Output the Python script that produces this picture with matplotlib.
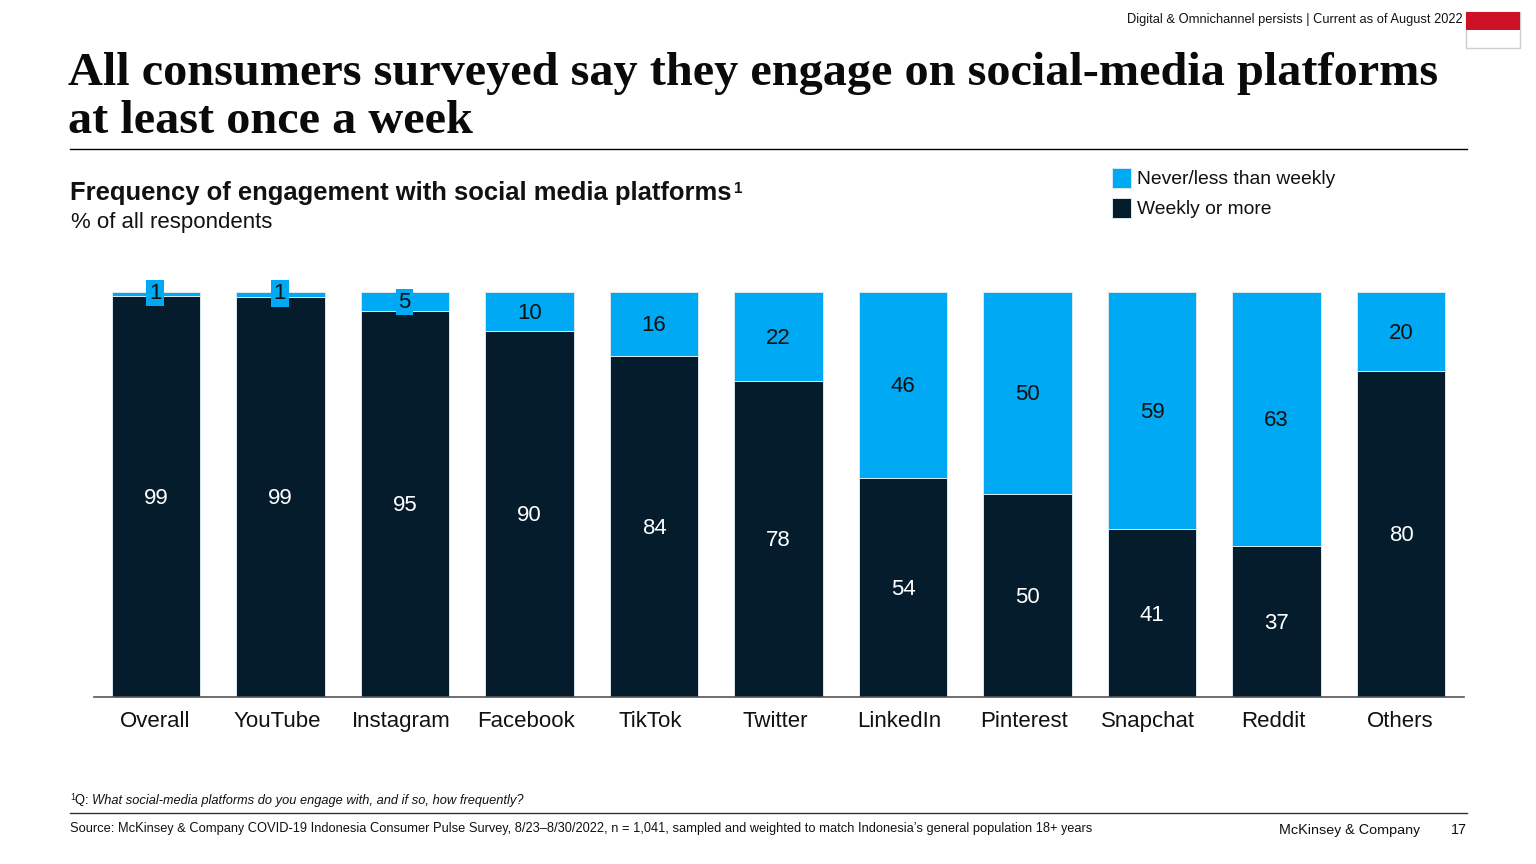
import matplotlib
matplotlib.use("Agg")
import matplotlib.pyplot as plt
import numpy as np
from matplotlib.lines import Line2D
from matplotlib.patches import Rectangle

plt.rcParams['font.family'] = ['Liberation Sans', 'DejaVu Sans']
plt.rcParams['text.hinting'] = 'no_autohint'

# data (unrounded shares, labels show them rounded)
platforms = ["Overall", "YouTube", "Instagram", "Facebook", "TikTok", "Twitter",
             "LinkedIn", "Pinterest", "Snapchat", "Reddit", "Others"]
weekly_or_more = [99.0, 98.8, 95.4, 90.4, 84.2, 78.0, 54.1, 50.1, 41.4, 37.4, 80.49]
less_than_weekly = [1.0, 1.2, 4.6, 9.6, 15.8, 22.0, 45.9, 49.9, 58.6, 62.6, 19.51]

W, H = 1536, 864
NAVY = "#051C2C"
CYAN = "#00A9F4"
INK = "#111111"

fig = plt.figure(figsize=(W / 100, H / 100), dpi=100, facecolor="white")


def fx(px):
    return px / W


def fy(py):
    return 1 - py / H


def put(px, py, s, size, **kw):
    kw.setdefault("color", INK)
    kw.setdefault("va", "baseline")
    return fig.text(fx(px), fy(py), s, fontsize=size, **kw)


def rule(x0, x1, py, lw=1.0, color="black"):
    fig.add_artist(Line2D([fx(x0), fx(x1)], [fy(py), fy(py)], lw=lw, color=color))


# ======================================================
# CHART
# ======================================================
ax = fig.add_axes([fx(94), fy(697), fx(1464 - 94), (697 - 292) / H])
x = np.arange(len(platforms))

bars_low = ax.bar(x, weekly_or_more, width=0.708, color=NAVY, edgecolor="#dbe7ee",
                  linewidth=0.7, label="Weekly or more")
bars_top = ax.bar(x, less_than_weekly, width=0.708, bottom=weekly_or_more, color=CYAN,
                  edgecolor="#dbe7ee", linewidth=0.7, label="Never/less than weekly")

ax.set_xlim(-0.498, 10.506)
ax.set_ylim(0, 100)
ax.set_yticks([])
for side in ["top", "left", "right"]:
    ax.spines[side].set_visible(False)
ax.spines["bottom"].set_color("#555555")
ax.spines["bottom"].set_linewidth(1.2)

low_labels = ax.bar_label(bars_low, fmt="%.0f", label_type="center", color="white", fontsize=16)
top_labels = ax.bar_label(bars_top, fmt="%.0f", label_type="center", color=INK, fontsize=16)
for lab in low_labels:
    lab.xyann = (0, -1.4)
for val, lab in zip(less_than_weekly, top_labels):
    lab.xyann = (0, -1.4)
    if val < 6:
        lab.set_bbox(dict(facecolor=CYAN, edgecolor="none", pad=2))
        lab.xyann = (-0.4, -0.5)
    if val < 2:
        lab.xyann = (-0.6, 0.7)

# category labels sit a little left of the bar centres
ax.set_xticks(x)
ax.set_xticklabels([])
ax.tick_params(axis="x", length=0)
label_shift = [-1, -3.5, -4, -3.5, -4, -3.5, -4, -3.5, -4, -3.5, -1]
for xi, name, shift in zip(x, platforms, label_shift):
    ax.annotate(name, xy=(xi, 0), xycoords=("data", "axes fraction"),
                xytext=(shift * 0.72, -21.6), textcoords="offset points",
                ha="center", va="baseline", fontsize=16, color=INK)

# legend
handles = [bars_top, bars_low]
fig.legend(handles, [h.get_label() for h in handles], loc="upper left",
           bbox_to_anchor=(fx(1112), fy(168)), frameon=False, fontsize=13.85,
           borderpad=0, borderaxespad=0, handlelength=0.99, handleheight=1.2,
           handletextpad=0.3, labelspacing=0.5, labelcolor=INK)

# ======================================================
# HEADER
# ======================================================
put(1463, 23, "Digital & Omnichannel persists | Current as of August 2022", 9.3, ha="right")
fig.add_artist(Rectangle((fx(1466), fy(48)), fx(54), 36 / H, transform=fig.transFigure,
                         facecolor="white", edgecolor="#cccccc", linewidth=1))
fig.add_artist(Rectangle((fx(1466), fy(30)), fx(54), 18 / H, transform=fig.transFigure,
                         facecolor="#CE1126", edgecolor="none"))

title_font = dict(family="Liberation Serif", fontweight="bold", color="#0a0a0a")
put(68, 85, "All consumers surveyed say they engage on social-media platforms", 34.78, **title_font)
put(68, 133, "at least once a week", 34.78, **title_font)
rule(70, 1467, 149)

put(70, 200, "Frequency of engagement with social media platforms", 18.47, fontweight="bold")
put(733, 193, "1", 11, fontweight="bold")
put(71, 228, "% of all respondents", 16)

# ======================================================
# FOOTER
# ======================================================
put(70, 800, "1", 6.5)
put(75, 804, "Q: ", 9.27)
put(92, 804, "What social-media platforms do you engage with, and if so, how frequently?",
    9.27, fontstyle="italic")
rule(70, 1467, 813, lw=1.0, color="#333333")
put(70, 832, "Source: McKinsey & Company COVID-19 Indonesia Consumer Pulse Survey, "
             "8/23\u20138/30/2022, n = 1,041, sampled and weighted to match Indonesia\u2019s "
             "general population 18+ years", 9.27)
put(1420, 834, "McKinsey & Company", 10.4, ha="right")
put(1467, 834, "17", 10.4, ha="right")

fig.savefig("out.png", dpi=100)
